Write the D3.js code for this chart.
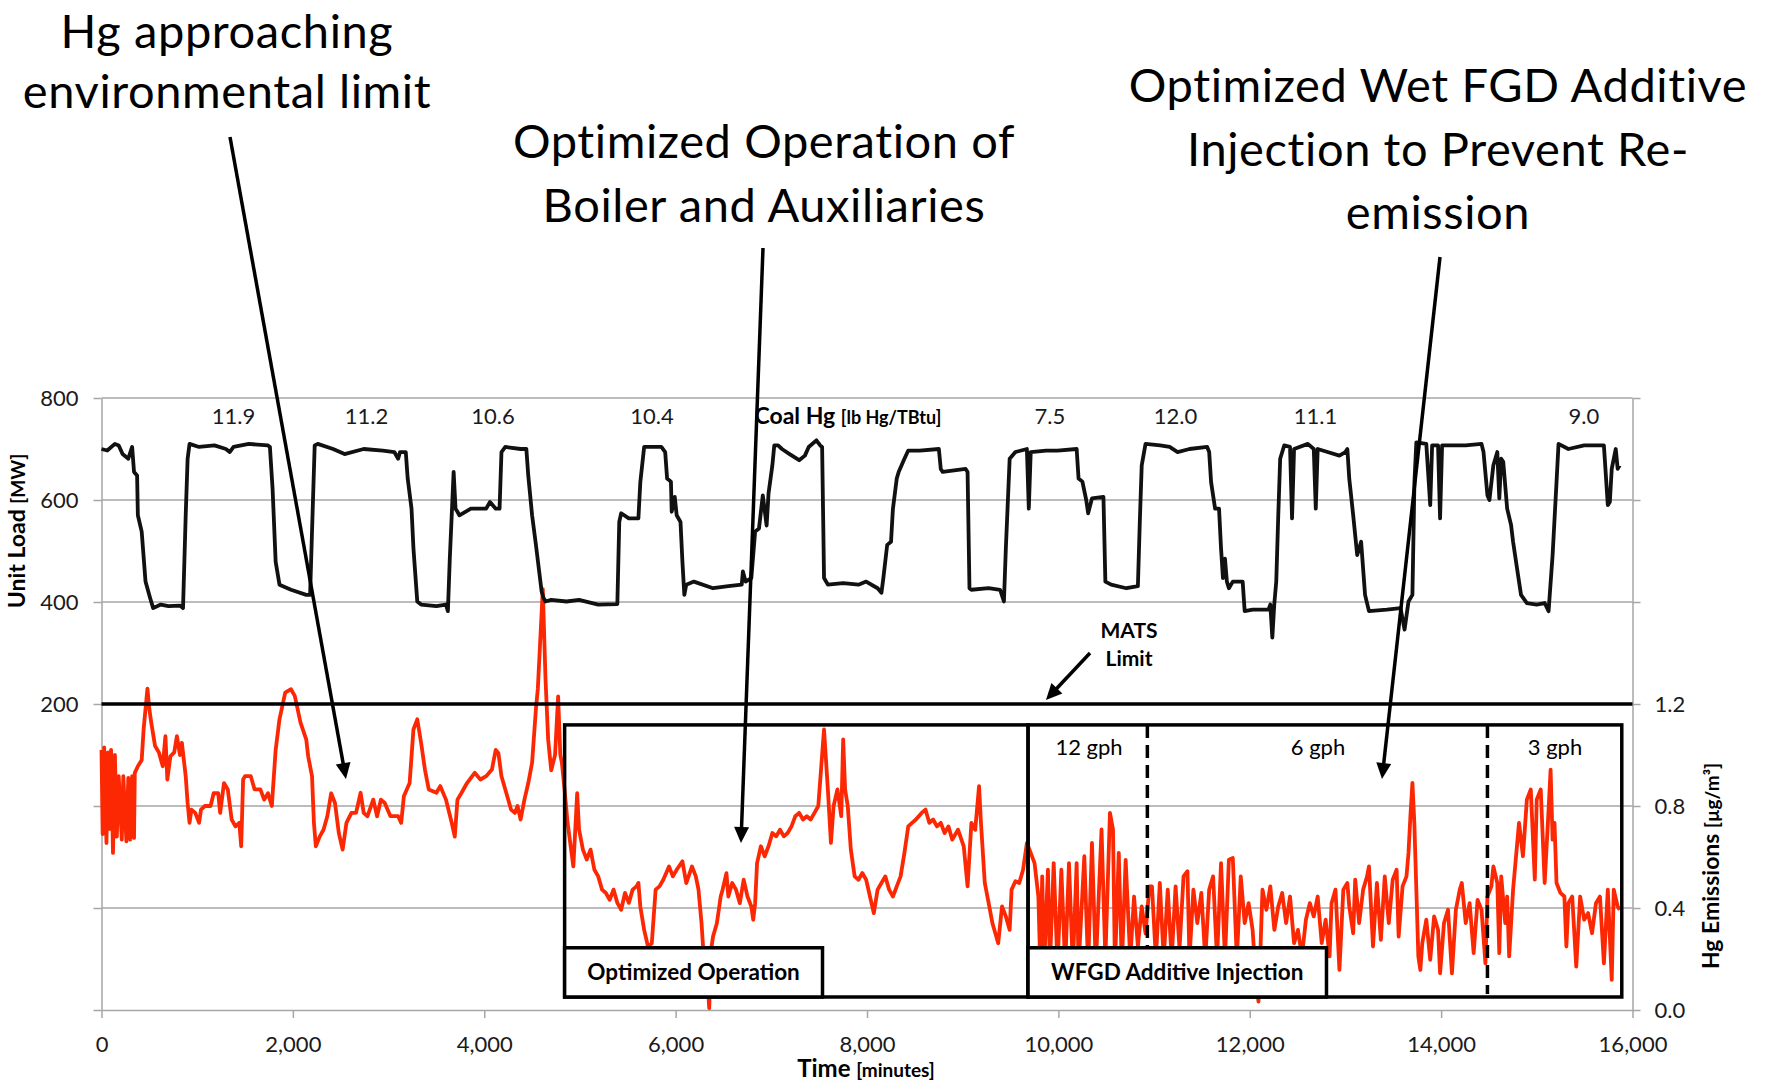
<!DOCTYPE html>
<html>
<head>
<meta charset="utf-8">
<script src="https://cdn.jsdelivr.net/npm/d3@7"></script>
<style>
  body { margin: 0; background: #fff; }
  svg { display: block; font-family: Lato, "Open Sans", sans-serif; }
  .axis path, .axis line { stroke: #a6a6a6; stroke-width: 1.5px; }
  .axis text { font-size: 22px; fill: #1a1a1a; font-family: Lato, sans-serif; }
</style>
</head>
<body>
<script>
// unit load [minutes, MW]
var loadSeries = [
  [0,700],[60,697],[140,710],[180,707],[220,690],[280,681],[320,704],[340,655],[372,648],[380,570],
  [420,538],[460,440],[508,408],[540,388],[620,395],[700,392],[820,393],[852,388],[880,570],[900,681],
  [920,710],[1020,704],[1180,707],[1300,700],[1340,694],[1380,704],[1540,710],[1740,707],[1760,704],[1788,622],
  [1820,479],[1860,434],[1980,424],[2140,414],[2180,414],[2200,538],[2228,707],[2260,710],[2420,700],[2540,690],
  [2740,700],[2940,697],[3060,694],[3100,681],[3120,694],[3180,694],[3200,642],[3240,583],[3260,505],[3300,401],
  [3340,395],[3500,392],[3600,395],[3620,382],[3640,485],[3680,655],[3700,583],[3720,577],[3740,570],[3860,583],
  [4020,583],[4060,596],[4120,583],[4160,583],[4180,694],[4220,704],[4380,700],[4440,700],[4460,648],[4500,570],
  [4540,512],[4600,420],[4620,408],[4640,401],[4700,404],[4860,401],[4991,404],[5191,395],[5391,396],[5411,557],
  [5431,574],[5511,564],[5611,564],[5631,635],[5671,704],[5851,704],[5891,694],[5911,642],[5951,636],[5959,577],
  [5991,606],[6011,570],[6051,557],[6071,479],[6091,414],[6111,434],[6191,440],[6391,427],[6551,431],[6691,434],
  [6703,460],[6731,440],[6791,447],[6831,538],[6871,544],[6911,609],[6951,550],[6971,613],[7011,668],[7031,707],
  [7071,707],[7111,700],[7191,690],[7291,678],[7351,687],[7391,704],[7471,717],[7511,707],[7531,704],[7551,447],
  [7591,434],[7751,437],[7911,434],[7991,440],[8111,427],[8151,418],[8171,447],[8211,512],[8251,518],[8271,583],
  [8311,642],[8331,655],[8391,681],[8431,697],[8551,697],[8751,700],[8771,661],[8791,655],[9031,661],[9051,655],
  [9071,427],[9091,424],[9271,427],[9391,424],[9431,401],[9451,505],[9491,681],[9551,694],[9671,700],[9691,583],
  [9711,694],[9871,697],[9991,697],[10191,700],[10211,642],[10251,636],[10291,600],[10311,574],[10351,603],[10471,606],
  [10491,440],[10551,434],[10711,427],[10831,431],[10851,557],[10871,668],[10911,710],[11063,707],[11163,704],[11246,694],
  [11370,700],[11555,704],[11576,694],[11596,635],[11638,583],[11679,583],[11700,505],[11720,447],[11741,485],[11761,440],
  [11782,427],[11823,440],[11926,440],[11947,382],[12030,385],[12195,385],[12215,395],[12236,330],[12256,395],[12277,440],
  [12298,570],[12318,681],[12360,707],[12421,704],[12442,564],[12463,700],[12607,710],[12669,700],[12690,583],[12710,700],
  [12813,694],[12937,687],[12999,694],[13020,700],[13040,642],[13081,570],[13123,492],[13164,518],[13205,414],[13246,382],
  [13432,385],[13576,388],[13618,346],[13659,401],[13700,414],[13721,635],[13741,713],[13845,710],[13886,590],[13906,707],
  [13968,707],[13989,564],[14010,707],[14257,707],[14422,710],[14443,694],[14484,609],[14505,600],[14546,668],[14587,694],
  [14608,603],[14628,681],[14649,675],[14690,583],[14731,551],[14752,518],[14793,466],[14835,414],[14896,398],[14999,395],
  [15082,398],[15123,382],[15165,492],[15206,635],[15227,710],[15330,700],[15495,707],[15701,707],[15742,590],[15763,596],
  [15783,661],[15825,700],[15845,661],[15866,668]
];

// Hg emissions [minutes, ug/m3]
var hgSeries = [
  [0,1.02],[12,0.69],[28,1.03],[52,0.655],[68,1.01],[88,0.71],[100,1.02],[120,0.616],[140,1.0],[160,0.68],
  [180,0.917],[212,0.668],[228,0.917],[260,0.661],[280,0.91],[300,0.668],[320,0.917],[340,0.675],[348,0.93],[380,0.956],
  [420,0.98],[440,1.1],[460,1.18],[480,1.26],[500,1.18],[520,1.127],[560,1.035],[600,1.01],[640,0.956],[668,1.074],
  [688,0.904],[720,0.995],[760,1.01],[788,1.074],[820,1.0],[840,1.048],[880,0.917],[900,0.812],[920,0.734],[940,0.786],
  [980,0.773],[1020,0.734],[1040,0.786],[1080,0.8],[1140,0.8],[1172,0.85],[1220,0.85],[1240,0.773],[1280,0.89],[1320,0.865],
  [1360,0.747],[1400,0.72],[1440,0.734],[1460,0.642],[1480,0.904],[1500,0.917],[1560,0.917],[1600,0.865],[1660,0.865],[1700,0.825],
  [1740,0.85],[1780,0.8],[1820,1.02],[1860,1.14],[1920,1.245],[1980,1.258],[2020,1.232],[2080,1.127],[2140,1.06],[2160,0.995],
  [2200,0.917],[2220,0.734],[2240,0.642],[2280,0.68],[2320,0.707],[2360,0.76],[2400,0.85],[2440,0.812],[2480,0.694],[2520,0.629],
  [2560,0.734],[2612,0.773],[2660,0.773],[2708,0.852],[2740,0.773],[2780,0.76],[2840,0.825],[2880,0.76],[2920,0.825],[2960,0.812],
  [3020,0.76],[3100,0.76],[3132,0.734],[3160,0.838],[3220,0.89],[3260,1.1],[3300,1.14],[3340,1.048],[3380,0.943],[3420,0.865],
  [3500,0.852],[3540,0.878],[3600,0.825],[3660,0.734],[3692,0.68],[3720,0.825],[3760,0.85],[3820,0.89],[3900,0.93],[3960,0.904],
  [4020,0.917],[4080,0.943],[4120,1.02],[4148,1.007],[4180,0.917],[4220,0.865],[4280,0.786],[4320,0.773],[4348,0.8],[4380,0.747],
  [4420,0.825],[4460,0.89],[4500,0.97],[4540,1.18],[4560,1.26],[4612,1.65],[4640,1.3],[4668,1.06],[4700,0.94],[4740,1.0],
  [4772,1.23],[4795,1.0],[4811,0.97],[4839,0.865],[4871,0.734],[4931,0.563],[4971,0.85],[4991,0.707],[5031,0.629],[5071,0.59],
  [5111,0.629],[5151,0.55],[5191,0.524],[5231,0.472],[5271,0.459],[5311,0.432],[5351,0.472],[5391,0.42],[5431,0.393],[5471,0.459],
  [5511,0.42],[5551,0.472],[5591,0.485],[5611,0.498],[5631,0.406],[5671,0.314],[5711,0.249],[5751,0.262],[5791,0.472],[5831,0.485],
  [5871,0.511],[5931,0.563],[5971,0.524],[6011,0.55],[6071,0.583],[6111,0.498],[6171,0.563],[6211,0.524],[6239,0.472],[6271,0.34],
  [6291,0.223],[6311,0.17],[6331,0.131],[6351,0.007],[6371,0.236],[6391,0.288],[6431,0.34],[6471,0.445],[6491,0.472],[6531,0.537],
  [6551,0.445],[6591,0.498],[6631,0.472],[6671,0.419],[6711,0.511],[6751,0.445],[6791,0.406],[6811,0.354],[6831,0.419],[6851,0.576],
  [6891,0.642],[6931,0.603],[6971,0.642],[7011,0.694],[7051,0.681],[7091,0.707],[7131,0.681],[7171,0.694],[7211,0.72],[7251,0.76],
  [7291,0.773],[7331,0.747],[7371,0.76],[7411,0.747],[7451,0.773],[7491,0.8],[7551,1.1],[7591,0.865],[7623,0.655],[7651,0.8],
  [7691,0.865],[7731,0.76],[7751,1.061],[7771,0.865],[7799,0.8],[7831,0.629],[7871,0.524],[7911,0.511],[7951,0.537],[7991,0.511],
  [8031,0.445],[8071,0.38],[8111,0.472],[8151,0.498],[8191,0.524],[8231,0.472],[8271,0.445],[8311,0.485],[8351,0.524],[8391,0.616],
  [8431,0.72],[8471,0.734],[8511,0.747],[8571,0.773],[8611,0.786],[8651,0.734],[8691,0.747],[8731,0.72],[8771,0.734],[8811,0.694],
  [8851,0.72],[8891,0.668],[8951,0.707],[9011,0.642],[9051,0.485],[9091,0.734],[9131,0.707],[9171,0.878],[9191,0.734],[9231,0.498],
  [9271,0.42],[9311,0.34],[9351,0.288],[9371,0.262],[9411,0.406],[9451,0.367],[9491,0.314],[9511,0.472],[9551,0.505],[9591,0.498],
  [9631,0.55],[9671,0.655],[9711,0.616],[9751,0.576],[9791,0.445],[9811,0.17],[9831,0.524],[9851,0.17],[9891,0.55],[9911,0.17],
  [9951,0.576],[9991,0.17],[10031,0.55],[10071,0.17],[10111,0.576],[10151,0.17],[10191,0.576],[10211,0.17],[10271,0.603],[10311,0.17],
  [10351,0.655],[10391,0.17],[10451,0.708],[10491,0.2],[10539,0.773],[10571,0.707],[10591,0.17],[10631,0.616],[10663,0.17],[10703,0.589],
  [10751,0.2],[10791,0.445],[10831,0.25],[10871,0.406],[10911,0.3],[10951,0.485],[10978,0.485],[11019,0.2],[11060,0.498],[11101,0.2],
  [11143,0.472],[11184,0.2],[11225,0.485],[11266,0.24],[11308,0.524],[11349,0.544],[11370,0.2],[11411,0.472],[11452,0.341],[11494,0.459],
  [11535,0.2],[11576,0.472],[11617,0.524],[11658,0.2],[11700,0.576],[11741,0.2],[11782,0.589],[11823,0.596],[11865,0.2],[11906,0.524],
  [11947,0.341],[11988,0.419],[12030,0.314],[12050,0.2],[12091,0.033],[12112,0.236],[12133,0.472],[12174,0.393],[12215,0.485],[12257,0.314],
  [12298,0.406],[12339,0.459],[12380,0.341],[12421,0.445],[12463,0.262],[12504,0.314],[12545,0.21],[12587,0.354],[12628,0.419],[12669,0.367],
  [12710,0.445],[12752,0.262],[12793,0.354],[12834,0.21],[12855,0.419],[12896,0.472],[12937,0.157],[12978,0.472],[13020,0.498],[13040,0.406],
  [13081,0.301],[13102,0.511],[13143,0.341],[13185,0.472],[13226,0.524],[13246,0.563],[13288,0.249],[13329,0.498],[13370,0.275],[13411,0.524],
  [13453,0.341],[13494,0.511],[13535,0.55],[13556,0.288],[13597,0.485],[13638,0.524],[13659,0.616],[13679,0.76],[13700,0.891],[13720,0.734],
  [13741,0.472],[13762,0.21],[13783,0.157],[13803,0.262],[13845,0.354],[13886,0.197],[13927,0.367],[13968,0.314],[13989,0.144],[14030,0.341],
  [14072,0.393],[14113,0.144],[14154,0.393],[14195,0.472],[14216,0.498],[14257,0.341],[14298,0.419],[14340,0.223],[14381,0.432],[14422,0.393],
  [14463,0.183],[14484,0.445],[14525,0.485],[14546,0.563],[14587,0.498],[14608,0.223],[14628,0.524],[14670,0.341],[14690,0.445],[14711,0.21],
  [14752,0.472],[14814,0.734],[14855,0.603],[14896,0.825],[14937,0.865],[14979,0.511],[14999,0.825],[15041,0.865],[15082,0.498],[15123,0.786],
  [15144,0.943],[15165,0.668],[15185,0.734],[15206,0.498],[15247,0.459],[15288,0.445],[15309,0.249],[15330,0.419],[15370,0.445],[15412,0.17],
  [15453,0.445],[15495,0.354],[15536,0.38],[15577,0.301],[15618,0.419],[15660,0.445],[15701,0.183],[15742,0.472],[15783,0.118],[15804,0.472],
  [15845,0.406],[15866,0.393]
];

var timeTicks = [0, 2000, 4000, 6000, 8000, 10000, 12000, 14000, 16000];
var loadTicks = [-400, -200, 0, 200, 400, 600, 800];
var hgTicks = [0, 0.4, 0.8, 1.2, 1.6, 2.0, 2.4];

var coalHgValues = ["11.9", "11.2", "10.6", "10.4", "7.5", "12.0", "11.1", "9.0"];
var coalHgMinutes = [1379, 2770, 4091, 5753, 9912, 11224, 12687, 15492];

var gphLabels = ["12 gph", "6 gph", "3 gph"];
var gphMinutes = [10320, 12713, 15190];
var gphChanges = [10930, 14484];

var matsLimit = 1.2;

var W = 1769, H = 1083;
var plot = {left: 101.5, right: 1632.5, top: 398, bottom: 1010};

var x = d3.scaleLinear().domain([0, 16000]).range([plot.left, plot.right]);
var yLoad = d3.scaleLinear().domain([-400, 800]).range([plot.bottom, plot.top]);
var yHg = d3.scaleLinear().domain([0, 2.4]).range([plot.bottom, plot.top]);

var svg = d3.select("body").append("svg")
    .attr("width", W)
    .attr("height", H);

svg.append("rect").attr("width", W).attr("height", H).attr("fill", "#fff");

// grid
svg.append("g")
    .selectAll("line")
    .data(hgTicks.filter(function(d) { return d > 0 && d !== matsLimit; }))
    .enter()
    .append("line")
    .attr("x1", plot.left)
    .attr("x2", plot.right)
    .attr("y1", function(d) { return yHg(d); })
    .attr("y2", function(d) { return yHg(d); })
    .attr("stroke", "#a6a6a6")
    .attr("stroke-width", 1.5);

svg.append("g")
    .attr("class", "axis")
    .attr("transform", "translate(" + plot.left + ",0)")
    .call(d3.axisLeft(yLoad).tickValues(loadTicks).tickSize(8).tickSizeOuter(0).tickPadding(15)
        .tickFormat(function(d) { return d >= 200 ? d : ""; }));

svg.append("g")
    .attr("class", "axis")
    .attr("transform", "translate(" + plot.right + ",0)")
    .call(d3.axisRight(yHg).tickValues(hgTicks).tickSize(8).tickSizeOuter(0).tickPadding(14)
        .tickFormat(function(d) { return d <= matsLimit ? d3.format(".1f")(d) : ""; }));

svg.append("g")
    .attr("class", "axis")
    .attr("transform", "translate(0," + plot.bottom + ")")
    .call(d3.axisBottom(x).tickValues(timeTicks).tickSize(8).tickSizeOuter(0).tickPadding(18)
        .tickFormat(d3.format(",")));

// series
var loadLine = d3.line()
    .x(function(d) { return x(d[0]); })
    .y(function(d) { return yLoad(d[1]); });

var hgLine = d3.line()
    .x(function(d) { return x(d[0]); })
    .y(function(d) { return yHg(d[1]); });

svg.append("path")
    .datum(hgSeries)
    .attr("d", hgLine)
    .attr("fill", "none")
    .attr("stroke", "#fc2804")
    .attr("stroke-width", 3.8)
    .attr("stroke-linejoin", "round");

svg.append("path")
    .datum(loadSeries)
    .attr("d", loadLine)
    .attr("fill", "none")
    .attr("stroke", "#111")
    .attr("stroke-width", 3.8)
    .attr("stroke-linejoin", "round");

// MATS limit
svg.append("line")
    .attr("x1", x(0)).attr("x2", x(16000))
    .attr("y1", yHg(matsLimit)).attr("y2", yHg(matsLimit))
    .attr("stroke", "#000")
    .attr("stroke-width", 3.5);

// stage boxes
var boxTop = 1.118, boxBottom = 0.051, labelTop = 0.244;
var stages = [
  {from: 4840, to: 9683, labelTo: 7535, label: "Optimized Operation"},
  {from: 9683, to: 15888, labelTo: 12802, label: "WFGD Additive Injection"}
];

// gph change markers sit under the label boxes
svg.append("g").selectAll("line")
    .data(gphChanges)
    .enter()
    .append("line")
    .attr("x1", function(d) { return x(d); })
    .attr("x2", function(d) { return x(d); })
    .attr("y1", yHg(boxTop))
    .attr("y2", yHg(boxBottom) - 3)
    .attr("stroke", "#000")
    .attr("stroke-width", 3.5)
    .attr("stroke-dasharray", "13,7");

var st = svg.append("g").selectAll("g").data(stages).enter().append("g");

st.append("rect")
    .attr("x", function(d) { return x(d.from); })
    .attr("y", yHg(boxTop))
    .attr("width", function(d) { return x(d.to) - x(d.from); })
    .attr("height", yHg(boxBottom) - yHg(boxTop))
    .attr("fill", "none")
    .attr("stroke", "#000")
    .attr("stroke-width", 3.5);

st.append("rect")
    .attr("x", function(d) { return x(d.from); })
    .attr("y", yHg(labelTop))
    .attr("width", function(d) { return x(d.labelTo) - x(d.from); })
    .attr("height", yHg(boxBottom) - yHg(labelTop))
    .attr("fill", "#fff")
    .attr("stroke", "#000")
    .attr("stroke-width", 3.5);

st.append("text")
    .attr("x", function(d) { return (x(d.from) + x(d.labelTo)) / 2; })
    .attr("y", 980)
    .attr("text-anchor", "middle")
    .style("font-size", "22.5px")
    .style("font-weight", "bold")
    .text(function(d) { return d.label; });

svg.append("g").selectAll("text")
    .data(gphLabels)
    .enter()
    .append("text")
    .attr("x", function(d, i) { return x(gphMinutes[i]); })
    .attr("y", 755)
    .attr("text-anchor", "middle")
    .style("font-size", "22px")
    .text(String);

// coal Hg
svg.append("g").selectAll("text")
    .data(coalHgValues)
    .enter()
    .append("text")
    .attr("x", function(d, i) { return x(coalHgMinutes[i]); })
    .attr("y", 424)
    .attr("text-anchor", "middle")
    .style("font-size", "22px")
    .style("fill", "#1a1a1a")
    .text(String);

var coal = svg.append("text")
    .attr("x", x(7801))
    .attr("y", 424)
    .attr("text-anchor", "middle")
    .style("font-weight", "bold");
coal.append("tspan").style("font-size", "23px").text("Coal Hg ");
coal.append("tspan").style("font-size", "18px").text("[lb Hg/TBtu]");

// axis titles
var tx = svg.append("text")
    .attr("x", 866)
    .attr("y", 1077)
    .attr("text-anchor", "middle")
    .style("font-weight", "bold");
tx.append("tspan").style("font-size", "24px").text("Time ");
tx.append("tspan").style("font-size", "19px").text("[minutes]");

var tl = svg.append("text")
    .attr("transform", "translate(25,531) rotate(-90)")
    .attr("text-anchor", "middle")
    .style("font-weight", "bold");
tl.append("tspan").style("font-size", "23px").text("Unit Load ");
tl.append("tspan").style("font-size", "19px").text("[MW]");

var tr = svg.append("text")
    .attr("transform", "translate(1719,866) rotate(-90)")
    .attr("text-anchor", "middle")
    .style("font-weight", "bold");
tr.append("tspan").style("font-size", "23px").text("Hg Emissions ");
tr.append("tspan").style("font-size", "19px").text("[\u00b5g/m\u00b3]");

var mats = svg.append("text")
    .attr("text-anchor", "middle")
    .style("font-size", "21px")
    .style("font-weight", "bold");
mats.append("tspan").attr("x", 1129).attr("y", 638).text("MATS");
mats.append("tspan").attr("x", 1129).attr("y", 666).text("Limit");

// callouts
var callouts = [
  {lines: ["Hg approaching", "environmental limit"], cx: 227, y: 48, step: 60},
  {lines: ["Optimized Operation of", "Boiler and Auxiliaries"], cx: 764, y: 158, step: 63.5},
  {lines: ["Optimized Wet FGD Additive", "Injection to Prevent Re-", "emission"], cx: 1438, y: 102, step: 63.5}
];

callouts.forEach(function(c) {
    var t = svg.append("text")
        .attr("text-anchor", "middle")
        .style("font-size", "47px")
        .style("letter-spacing", "0.6px")
        .style("fill", "#000");
    c.lines.forEach(function(l, i) {
        t.append("tspan").attr("x", c.cx).attr("y", c.y + i * c.step).text(l);
    });
});

var arrow = function(x1, y1, x2, y2) {
    var a = Math.atan2(y2 - y1, x2 - x1);
    var len = 16, half = 7.5;
    var bx = x2 - len * Math.cos(a), by = y2 - len * Math.sin(a);
    svg.append("line")
        .attr("x1", x1).attr("y1", y1)
        .attr("x2", bx + 2 * Math.cos(a)).attr("y2", by + 2 * Math.sin(a))
        .attr("stroke", "#000")
        .attr("stroke-width", 3.5);
    svg.append("path")
        .attr("d", "M" + x2 + "," + y2 +
            "L" + (bx + half * Math.sin(a)) + "," + (by - half * Math.cos(a)) +
            "L" + (bx - half * Math.sin(a)) + "," + (by + half * Math.cos(a)) + "Z")
        .attr("fill", "#000");
};

arrow(230, 137, x(2555), yHg(0.906));
arrow(763, 248, x(6683), yHg(0.655));
arrow(1440, 257, x(13382), yHg(0.906));
arrow(1090, 653, x(9870), yHg(1.216));
</script>
</body>
</html>
